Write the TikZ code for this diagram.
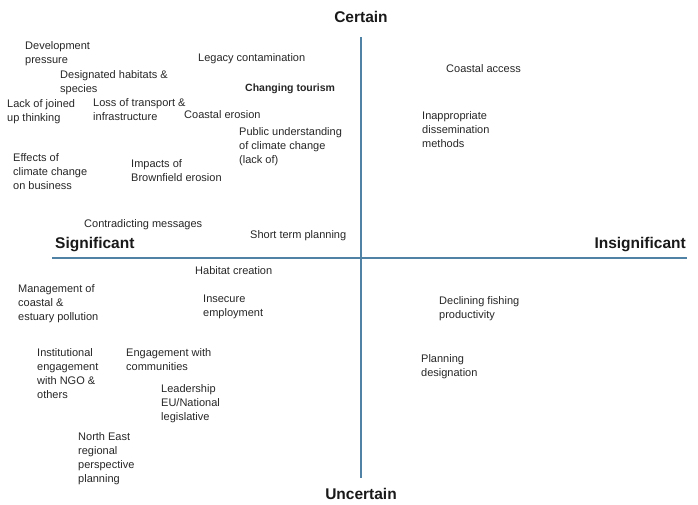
\documentclass[tikz,border=0pt]{standalone}
\usepackage{fontspec}
\setmainfont{Liberation Sans}
\begin{document}
\begin{tikzpicture}[x=1pt,y=-1pt,
  lbl/.style={anchor=north west,inner sep=0pt,align=left,yshift=-2.5pt,text=black!85,font=\fontsize{11}{14}\selectfont},
  bold/.style={lbl,font=\fontsize{10.5}{14}\selectfont\bfseries},
  head/.style={inner sep=0pt,font=\fontsize{15.5}{18}\selectfont\bfseries,text=black!90},
  axisline/.style={draw={rgb,255:red,80;green,130;blue,165},line width=1.4pt}]
\useasboundingbox (0,0) rectangle (698,504);
\coordinate (vt) at (361,37);
\coordinate (vb) at (361,478);
\coordinate (hl) at (52,258);
\coordinate (hr) at (687,258);
\draw[axisline] (vt) -- (vb);
\draw[axisline] (hl) -- (hr);
\node[head] (certain) at (361,17) {Certain};
\node[head] (uncertain) at (361,494) {Uncertain};
\node[head,anchor=west] (sig) at (55,245) {Significant};
\node[head,anchor=east] (insig) at (686,245) {Insignificant};
\node[lbl] (devp) at (25,39) {Development\\pressure};
\node[lbl] (desig) at (60,68) {Designated habitats \&\\species};
\node[lbl] (lack) at (7,97) {Lack of joined\\up thinking};
\node[lbl] (loss) at (93,96) {Loss of transport \&\\infrastructure};
\node[lbl] (legacy) at (198,51) {Legacy contamination};
\node[bold] (tour) at (245,81) {Changing tourism};
\node[lbl] (erosion) at (184,108) {Coastal erosion};
\node[lbl] (public) at (239,125) {Public understanding\\of climate change\\(lack of)};
\node[lbl] (effects) at (13,151) {Effects of\\climate change\\on business};
\node[lbl] (impacts) at (131,157) {Impacts of\\Brownfield erosion};
\node[lbl] (contra) at (84,217) {Contradicting messages};
\node[lbl] (short) at (250,228) {Short term planning};
\node[lbl] (access) at (446,62) {Coastal access};
\node[lbl] (inapp) at (422,109) {Inappropriate\\dissemination\\methods};
\node[lbl] (habitat) at (195,264) {Habitat creation};
\node[lbl] (manage) at (18,282) {Management of\\coastal \&\\estuary pollution};
\node[lbl] (insecure) at (203,292) {Insecure\\employment};
\node[lbl] (fish) at (439,294) {Declining fishing\\productivity};
\node[lbl] (plan) at (421,352) {Planning\\designation};
\node[lbl] (inst) at (37,346) {Institutional\\engagement\\with NGO \&\\others};
\node[lbl] (engage) at (126,346) {Engagement with\\communities};
\node[lbl] (lead) at (161,382) {Leadership\\EU/National\\legislative};
\node[lbl] (north) at (78,430) {North East\\regional\\perspective\\planning};
\end{tikzpicture}
\end{document}
